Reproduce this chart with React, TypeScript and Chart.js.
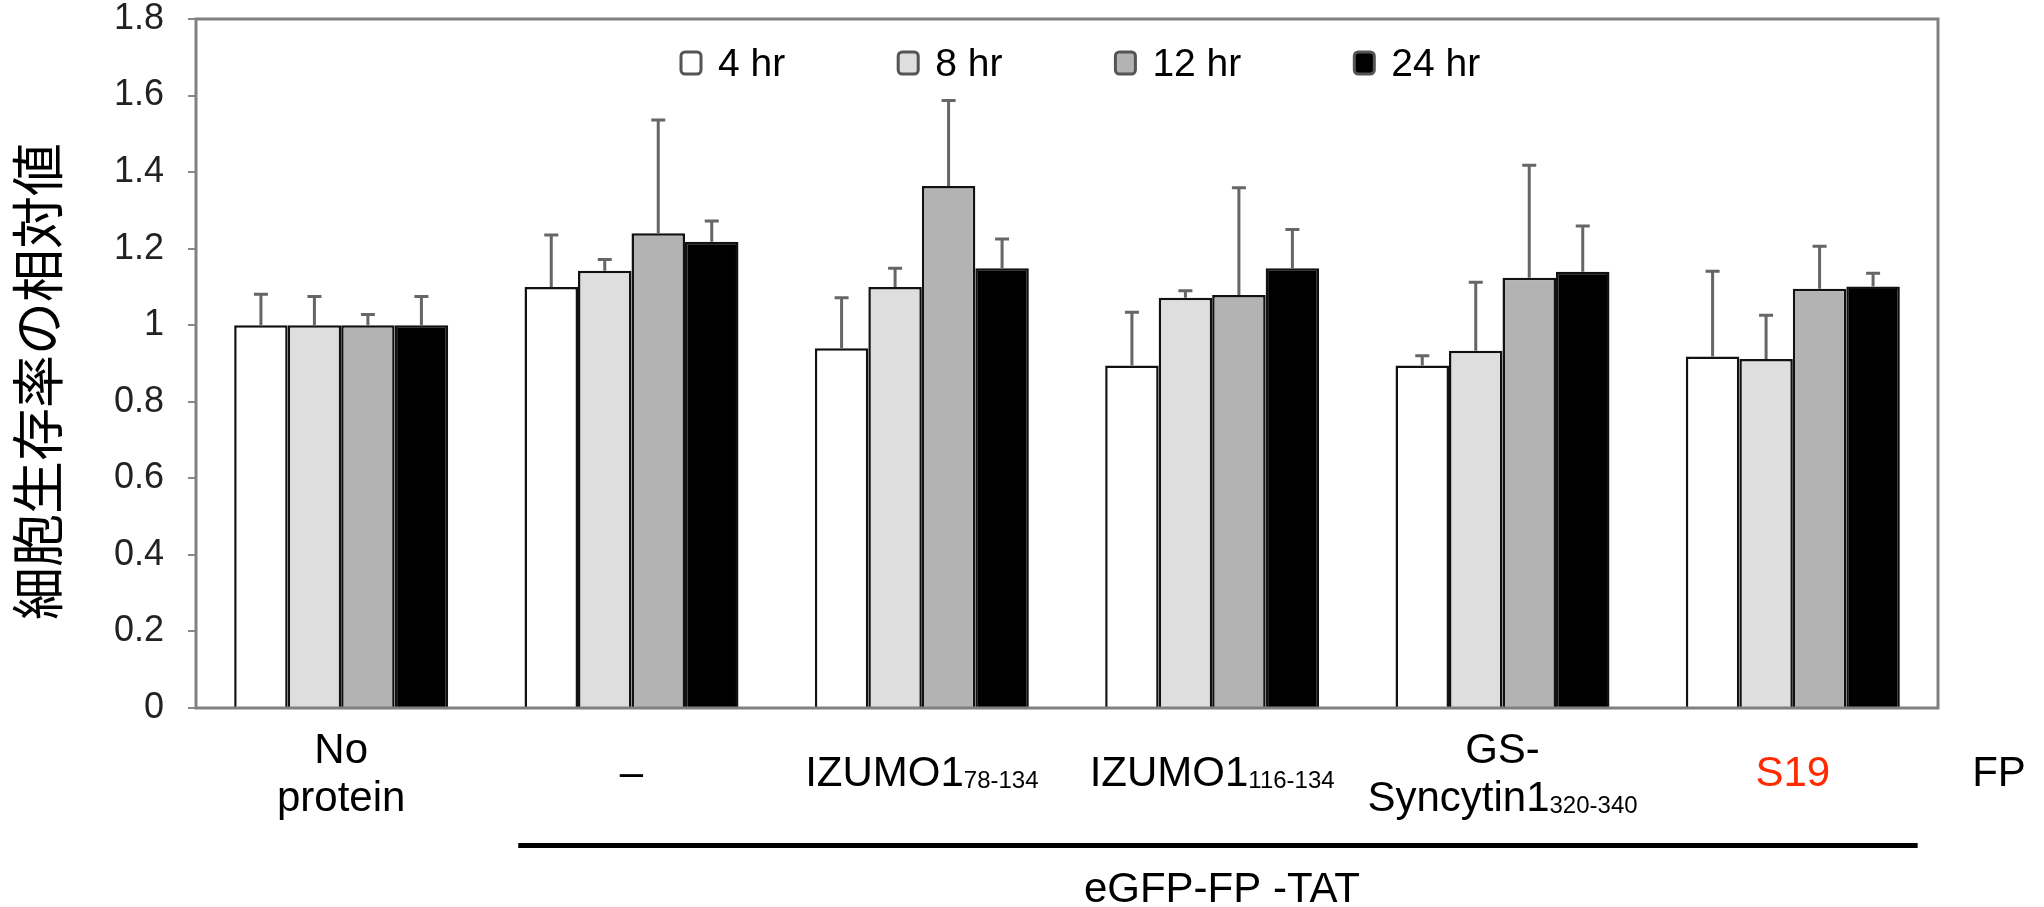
import React, { useEffect, useRef } from "react";
import { Chart, registerables } from "chart.js";

Chart.register(...registerables);

const categories = ["No protein", "–", "IZUMO1 78-134", "IZUMO1 116-134", "GS-Syncytin1 320-340", "S19"];
// label lines: each line = [main text, subscript]
const categoryLines: [string, string][][] = [
  [["No", ""], ["protein", ""]],
  [["–", ""]],
  [["IZUMO1", "78-134"]],
  [["IZUMO1", "116-134"]],
  [["GS-", ""], ["Syncytin1", "320-340"]],
  [["S19", ""]],
];
const categoryColors = ["#000000", "#000000", "#000000", "#000000", "#000000", "#ff2a00"];

const seriesLabels = ["4 hr", "8 hr", "12 hr", "24 hr"];
const seriesColors = ["#ffffff", "#dedede", "#b3b3b3", "#000000"];

const values4 = [1.0, 1.1, 0.94, 0.895, 0.895, 0.918];
const values8 = [1.0, 1.142, 1.1, 1.072, 0.933, 0.912];
const values12 = [1.0, 1.24, 1.364, 1.079, 1.124, 1.095];
const values24 = [1.0, 1.218, 1.149, 1.149, 1.14, 1.101];

const err4 = [0.081, 0.136, 0.132, 0.139, 0.025, 0.223];
const err8 = [0.075, 0.03, 0.049, 0.018, 0.179, 0.114];
const err12 = [0.028, 0.296, 0.223, 0.28, 0.294, 0.111];
const err24 = [0.075, 0.054, 0.076, 0.101, 0.119, 0.035];

const yTitle = "細胞生存率の相対値";
const groupLabel = "eGFP-FP -TAT";
const sideLabel = "FP";

const allValues = [values4, values8, values12, values24];
const allErrors = [err4, err8, err12, err24];

const FONT = '"Liberation Sans", Arial, Helvetica, sans-serif';

export default function App() {
  const ref = useRef<HTMLCanvasElement | null>(null);

  useEffect(() => {
    if (!ref.current) return;

    const errorBars = {
      id: "errorBars",
      afterDatasetsDraw(chart: any) {
        const ctx = chart.ctx;
        const y = chart.scales.y;
        ctx.save();
        ctx.strokeStyle = "#666666";
        ctx.lineWidth = 3;
        allErrors.forEach((errs, di) => {
          const meta = chart.getDatasetMeta(di);
          meta.data.forEach((bar: any, i: number) => {
            const v = allValues[di][i];
            const top = y.getPixelForValue(v + errs[i]);
            const base = y.getPixelForValue(v);
            ctx.beginPath();
            ctx.moveTo(bar.x, base);
            ctx.lineTo(bar.x, top);
            ctx.moveTo(bar.x - 7, top);
            ctx.lineTo(bar.x + 7, top);
            ctx.stroke();
          });
        });
        ctx.restore();
      },
    };

    const decorations = {
      id: "decorations",
      afterDraw(chart: any) {
        const ctx = chart.ctx;
        const area = chart.chartArea;
        const xs = chart.scales.x;
        ctx.save();
        // frame
        ctx.strokeStyle = "#808080";
        ctx.lineWidth = 3;
        ctx.strokeRect(area.left, area.top, area.right - area.left, area.bottom - area.top);

        // legend
        ctx.font = `39px ${FONT}`;
        ctx.textBaseline = "middle";
        ctx.textAlign = "left";
        let lx = 681;
        const ly = 63;
        seriesLabels.forEach((lab, i) => {
          ctx.fillStyle = seriesColors[i];
          ctx.strokeStyle = "#555555";
          ctx.lineWidth = 3;
          ctx.beginPath();
          (ctx as any).roundRect ? (ctx as any).roundRect(lx, ly - 11, 20, 22, 4) : ctx.rect(lx, ly - 11, 20, 22);
          ctx.fill();
          ctx.stroke();
          ctx.fillStyle = "#000000";
          ctx.fillText(lab, lx + 37, ly + 2);
          lx += 37 + ctx.measureText(lab).width + 113;
        });

        // category labels
        const slot = (area.right - area.left) / categories.length;
        categoryLines.forEach((lines, ci) => {
          const cx = xs.getPixelForValue(ci);
          const baselines = lines.length === 1 ? [786] : [763, 811];
          lines.forEach(([main, sub], li) => {
            ctx.font = `42px ${FONT}`;
            const mw = ctx.measureText(main).width;
            ctx.font = `24px ${FONT}`;
            const sw = sub ? ctx.measureText(sub).width : 0;
            const total = mw + sw;
            const x0 = cx - total / 2;
            ctx.textBaseline = "alphabetic";
            ctx.textAlign = "left";
            ctx.fillStyle = categoryColors[ci];
            ctx.font = `42px ${FONT}`;
            ctx.fillText(main, x0, baselines[li]);
            if (sub) {
              ctx.font = `24px ${FONT}`;
              ctx.fillText(sub, x0 + mw, baselines[li] + 2);
            }
          });
        });

        // FP side label
        ctx.font = `42px ${FONT}`;
        ctx.fillStyle = "#000000";
        ctx.textAlign = "center";
        ctx.fillText(sideLabel, area.right + 61, 786);

        // group line
        const lineL = xs.getPixelForValue(1) - slot * 0.39;
        const lineR = xs.getPixelForValue(5) + slot * 0.43;
        ctx.fillRect(lineL, 843, lineR - lineL, 5);
        ctx.fillText(groupLabel, (lineL + lineR) / 2 + 4, 902);

        // y title
        ctx.save();
        ctx.translate(38, (area.top + area.bottom) / 2 + 18);
        ctx.rotate(-Math.PI / 2);
        ctx.font = `53px "Noto Sans CJK JP", sans-serif`;
        ctx.textAlign = "center";
        ctx.textBaseline = "middle";
        ctx.fillText(yTitle, 0, 0);
        ctx.restore();

        ctx.restore();
      },
    };

    const chart = new Chart(ref.current, {
      type: "bar",
      data: {
        labels: categories,
        datasets: seriesLabels.map((lab, i) => ({
          label: lab,
          data: allValues[i],
          backgroundColor: seriesColors[i],
          borderColor: "#111111",
          borderWidth: 2.5,
          categoryPercentage: 0.737,
          barPercentage: 1.0,
        })),
      },
      options: {
        responsive: false,
        animation: false,
        devicePixelRatio: 1,
        layout: { padding: { left: 0, right: 106, top: 19, bottom: 0 } },
        plugins: {
          legend: { display: false },
          tooltip: { enabled: false },
          title: { display: false },
        },
        scales: {
          x: {
            type: "category",
            offset: true,
            grid: { display: false },
            ticks: { display: false },
            border: { display: false },
            afterFit: (s: any) => {
              s.height = 907 - 708;
            },
          },
          y: {
            min: 0,
            max: 1.8,
            ticks: {
              stepSize: 0.2,
              padding: 24,
              color: "#222222",
              font: { family: FONT, size: 36 },
              callback: (v: any) => String(Number(Number(v).toFixed(1))),
            },
            grid: {
              drawOnChartArea: false,
              drawTicks: true,
              tickLength: 8,
              color: "#888888",
              lineWidth: 2,
            },
            border: { display: false },
            afterFit: (s: any) => {
              s.width = 196;
              s.paddingTop = 0;
              s.paddingBottom = 0;
            },
          },
        },
      },
      plugins: [errorBars, decorations],
    });

    return () => chart.destroy();
  }, []);

  return (
    <div style={{ position: "absolute", left: 0, top: 0, width: 2044, height: 907, background: "#ffffff" }}>
      <canvas ref={ref} width={2044} height={907} style={{ width: 2044, height: 907, display: "block" }} />
    </div>
  );
}
